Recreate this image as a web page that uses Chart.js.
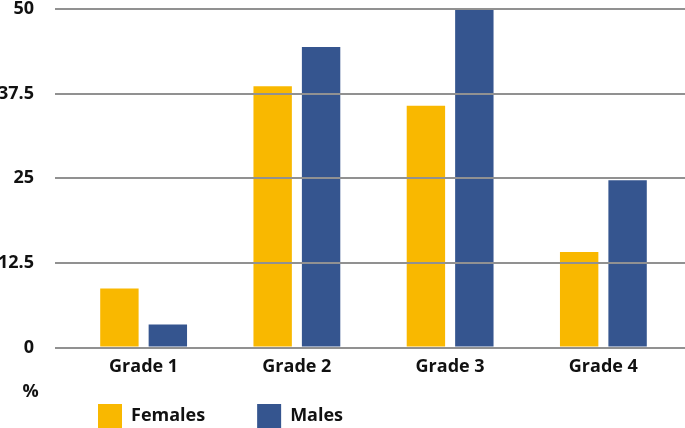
<!DOCTYPE html>
<html>
<head>
<meta charset="utf-8">
<script src="https://cdn.jsdelivr.net/npm/chart.js@4/dist/chart.umd.min.js"></script>
<style>
  html, body { margin: 0; padding: 0; background: #ffffff; }
  #wrap { width: 685px; height: 428px; }
</style>
</head>
<body>
<div id="wrap"><canvas id="c" width="685" height="428"></canvas></div>
<script>
// ---- data ----
const categories = ["Grade 1", "Grade 2", "Grade 3", "Grade 4"];
const females = [8.7, 38.6, 35.7, 14.1];
const males = [3.4, 44.4, 50, 24.7];
const seriesNames = ["Females", "Males"];
const yTickLabels = ["0", "12.5", "25", "37.5", "50"];
const yUnitLabel = "%";

// ---- styles ----
const YELLOW = "#F9B800";
const BLUE = "#35558F";
const GRID = "#919191";
const TEXT = "#111111";
const FONT = "'Open Sans', 'DejaVu Sans', sans-serif";
const WEIGHT = 700;

const legendPlacer = {
  id: "legendPlacer",
  afterLayout(chart) {
    const lg = chart.legend;
    if (!lg) return;
    const pad = lg.options.labels.padding;
    lg.left = 98 - pad;
    lg.right = chart.width;
    lg.top = 404 - pad;
    lg.bottom = chart.height + 20;
    lg.width = lg.right - lg.left;
    lg.height = lg.bottom - lg.top;
  }
};

const unitLabel = {
  id: "unitLabel",
  afterDraw(chart) {
    const ctx = chart.ctx;
    const xs = chart.scales.x;
    ctx.save();
    ctx.font = WEIGHT + " 18px " + FONT;
    ctx.fillStyle = TEXT;
    ctx.textAlign = "center";
    ctx.textBaseline = "middle";
    ctx.fillText(yUnitLabel, chart.scales.y.left + 30.5, xs.bottom + 13.5);
    ctx.restore();
  }
};

function build() {
  new Chart(document.getElementById("c"), {
    type: "bar",
    data: {
      labels: categories,
      datasets: [
        { label: seriesNames[0], data: females, backgroundColor: YELLOW, borderWidth: 0,
          barPercentage: 0.793, categoryPercentage: 0.632 },
        { label: seriesNames[1], data: males, backgroundColor: BLUE, borderWidth: 0,
          barPercentage: 0.793, categoryPercentage: 0.632 }
      ]
    },
    options: {
      responsive: false,
      animation: false,
      devicePixelRatio: 1,
      layout: { padding: { left: 0, right: 0, top: 0, bottom: 0 } },
      plugins: {
        tooltip: { enabled: false },
        title: { display: false },
        legend: {
          display: true,
          position: "bottom",
          align: "start",
          maxHeight: 50,
          labels: {
            boxWidth: 24,
            boxHeight: 24,
            padding: 52,
            color: TEXT,
            font: { family: FONT, size: 18, weight: WEIGHT }
          }
        }
      },
      scales: {
        x: {
          grid: { display: false, drawTicks: false, tickLength: 0 },
          border: { display: false },
          afterFit(scale) { scale.height = 30.5; scale.paddingLeft = 0; scale.paddingRight = 0; },
          ticks: {
            color: TEXT,
            padding: 9,
            font: { family: FONT, size: 18, weight: WEIGHT, lineHeight: 1.2 }
          }
        },
        y: {
          position: "left",
          min: 0,
          max: 50,
          border: { display: false },
          afterFit(scale) { scale.width = 67; scale.paddingTop = 9; scale.paddingBottom = 0; },
          grid: {
            color: GRID,
            lineWidth: 2,
            drawTicks: true,
            tickLength: 12,
            tickColor: GRID,
            z: 1
          },
          ticks: {
            stepSize: 12.5,
            color: TEXT,
            padding: 21,
            font: { family: FONT, size: 18, weight: WEIGHT, lineHeight: 1 },
            callback: (v, i) => yTickLabels[i]
          }
        },
        y2: {
          position: "right",
          min: 0,
          max: 50,
          border: { display: false },
          afterFit(scale) { scale.width = 5; scale.paddingTop = 0; scale.paddingBottom = 0; },
          grid: {
            color: GRID,
            lineWidth: 2,
            drawOnChartArea: false,
            drawTicks: true,
            tickLength: 5,
            tickColor: GRID,
            z: 1
          },
          ticks: { stepSize: 12.5, display: false }
        }
      }
    },
    plugins: [legendPlacer, unitLabel]
  });
}

if (document.fonts && document.fonts.load) {
  document.fonts.load(WEIGHT + " 18px 'Open Sans'").then(build, build);
} else {
  build();
}
</script>
</body>
</html>
